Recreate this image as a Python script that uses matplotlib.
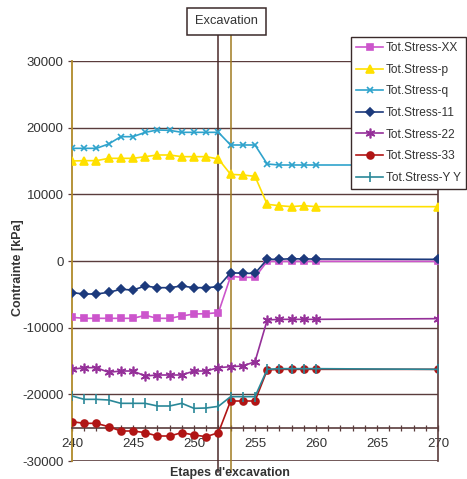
import matplotlib
matplotlib.use("Agg")
import matplotlib.pyplot as plt
from matplotlib.ticker import MultipleLocator, FixedLocator

steps = list(range(240, 261)) + [270]

stress_xx = [-8450, -8600, -8600, -8600, -8600, -8600, -8150, -8600, -8600, -8250, -7950,
             -7900, -7750, -2300, -2450, -2450, -50, -50, -50, -50, -50, -50]
stress_p = [15000, 15050, 15050, 15400, 15400, 15400, 15650, 15900, 15900, 15650, 15650,
            15650, 15300, 13000, 12900, 12700, 8500, 8300, 8150, 8300, 8150, 8150]
stress_q = [16900, 16900, 16900, 17550, 18650, 18650, 19300, 19650, 19600, 19300, 19300,
            19300, 19300, 17400, 17400, 17400, 14550, 14400, 14400, 14400, 14400, 14400]
stress_11 = [-4750, -4950, -4950, -4700, -4250, -4350, -3750, -4000, -4000, -3750, -4000,
             -4000, -3850, -1750, -1850, -1850, 250, 250, 350, 300, 300, 250]
stress_22 = [-16250, -16000, -16000, -16700, -16500, -16500, -17250, -17100, -17100, -17100, -16500,
             -16500, -16000, -15850, -15750, -15100, -8850, -8750, -8750, -8750, -8750, -8650]
stress_33 = [-24100, -24350, -24350, -24850, -25500, -25500, -25750, -26250, -26250, -25750, -26100,
             -26350, -25750, -21000, -21000, -21000, -16350, -16250, -16250, -16250, -16250, -16250]
stress_yy = [-20250, -20750, -20750, -20850, -21350, -21350, -21350, -21750, -21750, -21350, -22100,
             -22050, -21800, -20350, -20350, -20350, -16250, -16150, -16150, -16150, -16150, -16250]

labels = ["Tot.Stress-XX", "Tot.Stress-p", "Tot.Stress-q", "Tot.Stress-11",
          "Tot.Stress-22", "Tot.Stress-33", "Tot.Stress-Y Y"]
yticks = [30000, 20000, 10000, 0, -10000, -20000, -30000]
xticks = [240, 245, 250, 255, 260, 265, 270]
excav_steps = [252, 253]

plt.rcParams['font.family'] = ['Liberation Sans', 'DejaVu Sans']
fig = plt.figure(figsize=(4.67, 4.79), dpi=100)
ax = fig.add_axes([72/467, 1-461/479, (438-72)/467, (461-61)/479])

grid_c = '#5a3c3c'
txt_c = '#333333'

series = [
    (stress_xx, '#cc55cc', 's', 4.3),
    (stress_p, '#ffe000', '^', 5.8),
    (stress_q, '#2fa3cc', 'x', 5),
    (stress_11, '#1c3a7c', 'D', 4.2),
    (stress_22, '#953099', (6, 2, 0), 7),
    (stress_33, '#b01515', 'o', 5),
    (stress_yy, '#2a8898', '|', 6.5),
]
handles = []
for (vals, col, mk, ms), lab in zip(series, labels):
    h, = ax.plot(steps, vals, color=col, marker=mk, markersize=ms, lw=1.2,
                 markeredgecolor=col, markerfacecolor=col, markeredgewidth=1.2,
                 label=lab, zorder=3)
    handles.append(h)

ax.set_xlim(240, 270)
ax.set_ylim(-30000, 30000)

for y in [30000, 20000, 10000, 0, -10000, -20000]:
    ax.axhline(y, color=grid_c, lw=1.0, zorder=1)
ax.axhline(-30000, color=grid_c, lw=1.2, zorder=1)

ax.spines['top'].set_visible(False)
ax.spines['right'].set_color(grid_c)
ax.spines['right'].set_linewidth(1.2)
ax.spines['left'].set_color('#b08a2a')
ax.spines['left'].set_linewidth(1.3)
ax.spines['bottom'].set_position(('data', -25000))
ax.spines['bottom'].set_color(grid_c)
ax.spines['bottom'].set_linewidth(1.2)

ax.xaxis.set_major_locator(FixedLocator(xticks))
ax.xaxis.set_minor_locator(MultipleLocator(1))
ax.tick_params(axis='x', which='both', direction='inout', length=5, width=0.9,
               color=grid_c, labelsize=9.5, labelcolor=txt_c, pad=5)
ax.yaxis.set_major_locator(FixedLocator(yticks))
ax.tick_params(axis='y', direction='out', length=3, width=0.9, color=grid_c,
               labelsize=9.5, labelcolor=txt_c, pad=3)
ax.set_yticklabels([str(v) for v in yticks])

# excavation lines
ax.plot([excav_steps[0]] * 2, [-31700, 33900], color='#4a2a2a', lw=1.1, clip_on=False, zorder=2)
ax.plot([excav_steps[1]] * 2, [-31700, 33900], color='#a07a20', lw=1.1, clip_on=False, zorder=2)
ax.text(252.65, 35950, "Excavation", ha='center', va='center', fontsize=9.3, color=txt_c,
        bbox=dict(boxstyle='square,pad=0.6', fc='white', ec='#3a2a2a', lw=1.1),
        clip_on=False, zorder=4)

fig.text(230/467, 1-473/479, "Etapes d'excavation", ha='center', va='center',
         fontsize=9, fontweight='bold', color=txt_c)
fig.text(18/467, 1-268/479, "Contrainte [kPa]", ha='center', va='center',
         fontsize=9, fontweight='bold', color=txt_c, rotation=90)

leg = fig.legend(handles=handles, loc='upper right', bbox_to_anchor=(1.0 - 1/467, 1-37/479),
                 fontsize=8.6, frameon=True, fancybox=False, edgecolor='#3a2a2a',
                 framealpha=1, handlelength=2.2, labelspacing=0.8, borderpad=0.45,
                 handletextpad=0.25, borderaxespad=0)
leg.get_frame().set_linewidth(1.0)
for t in leg.get_texts():
    t.set_color(txt_c)

fig.savefig("out.png", dpi=100)
